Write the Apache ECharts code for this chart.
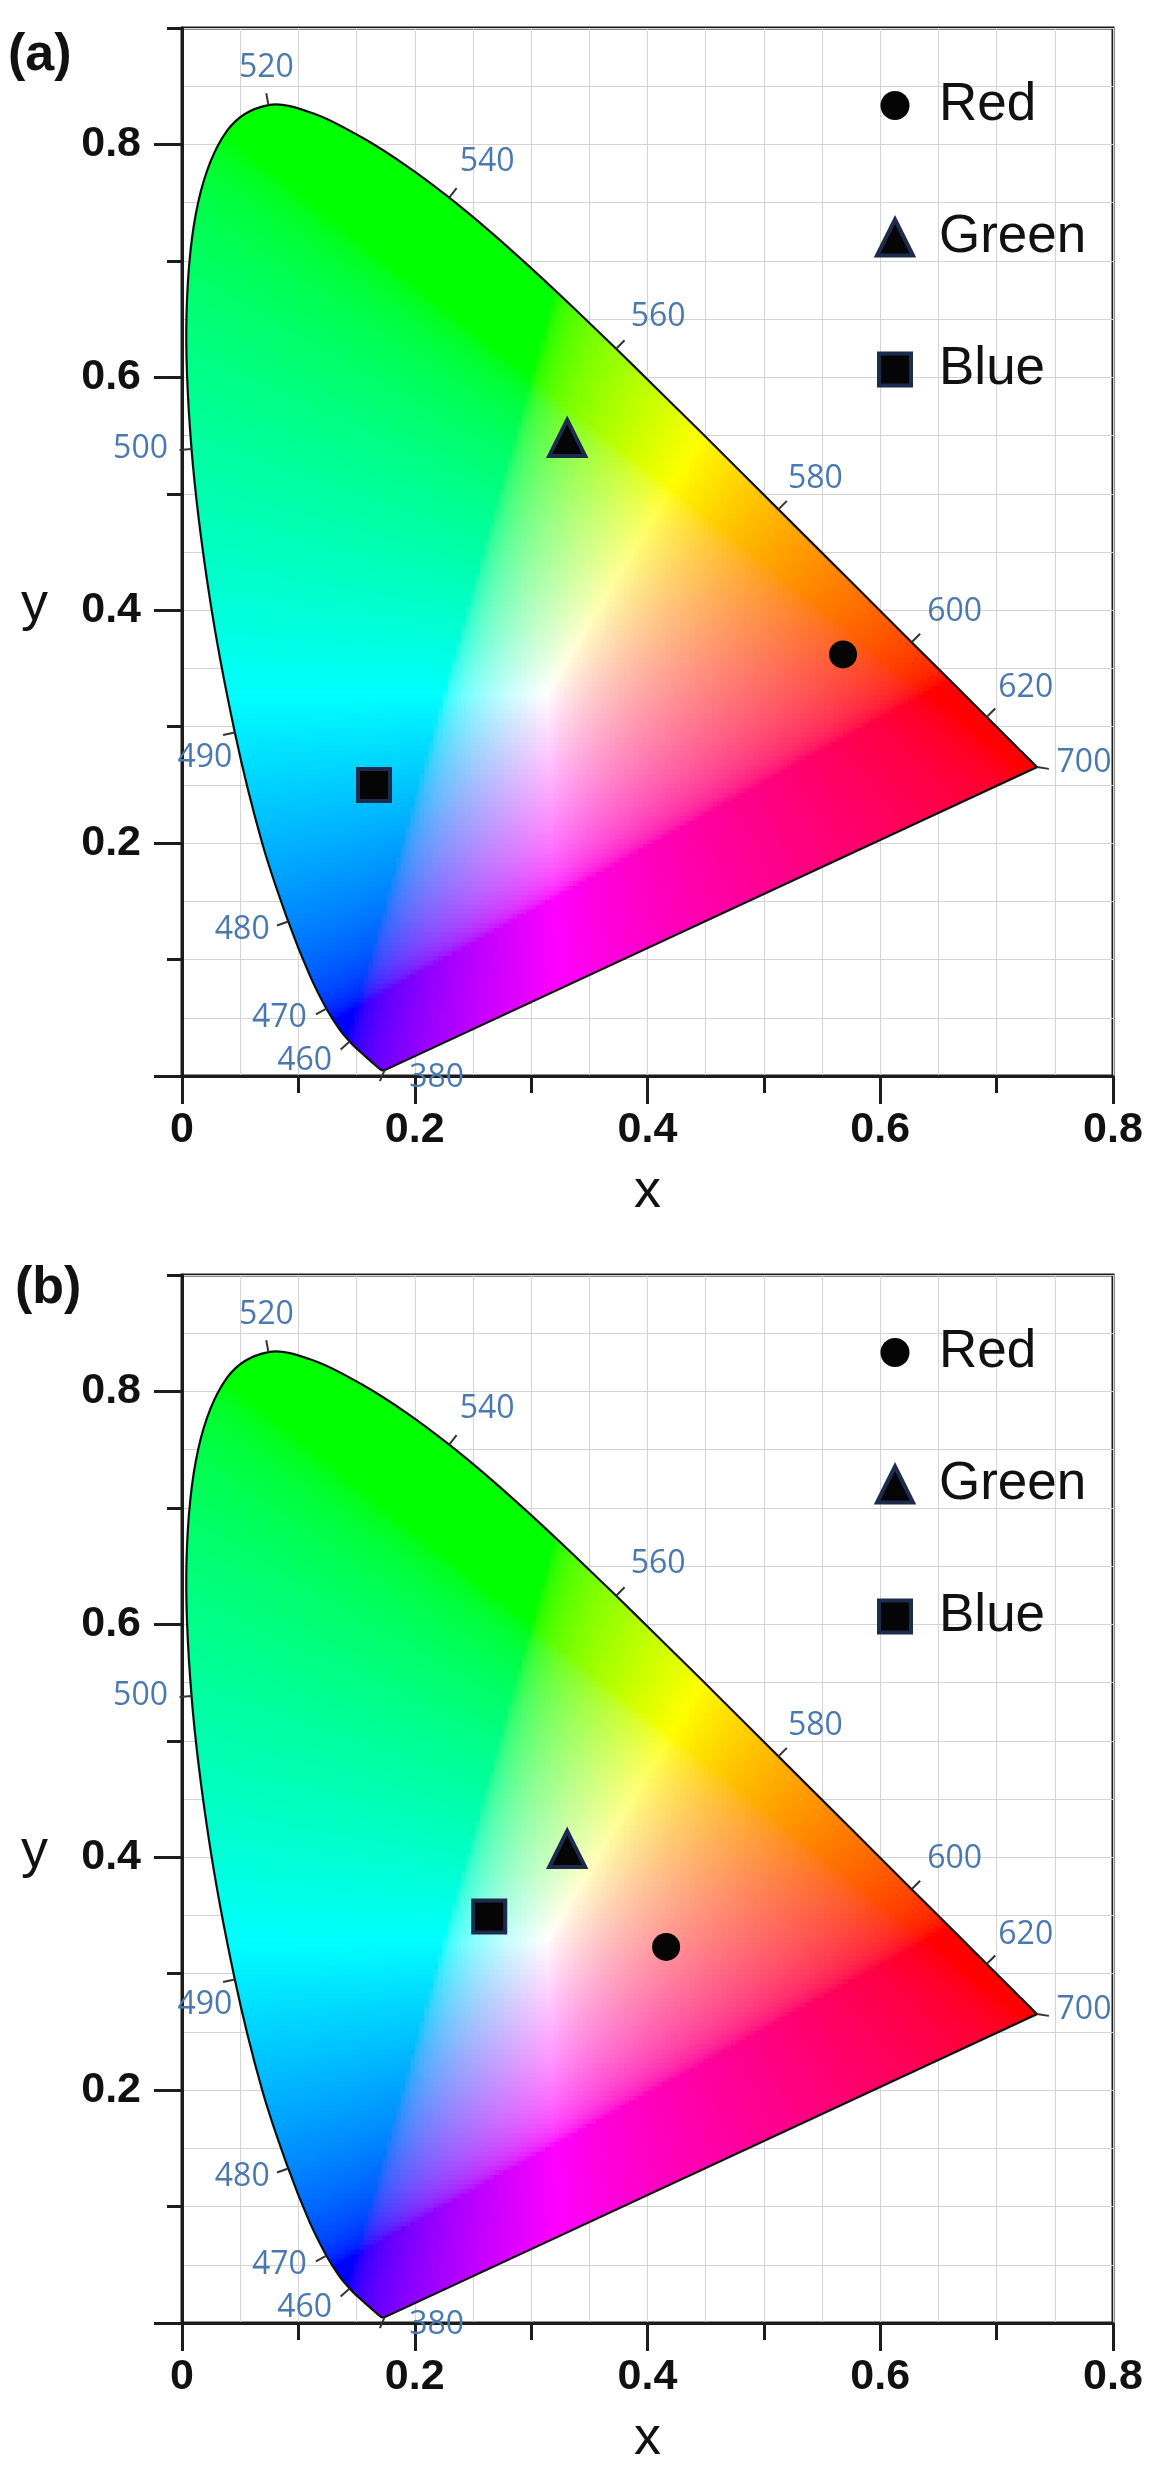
<!DOCTYPE html>
<html>
<head>
<meta charset="utf-8">
<title>CIE 1931 chromaticity</title>
<script src="https://cdn.jsdelivr.net/npm/echarts@6/dist/echarts.min.js"></script>
<style>
  html, body { margin: 0; padding: 0; background: #fff; }
  #chart { width: 1150px; height: 2470px; }
</style>
</head>
<body>
<div id="chart"></div>
<script>
// CIE 1931 2deg spectral locus, 5 nm steps
const locusWl = [380, 385, 390, 395, 400, 405, 410, 415, 420, 425, 430, 435, 440, 445, 450, 455,
    460, 465, 470, 475, 480, 485, 490, 495, 500, 505, 510, 515, 520, 525, 530, 535, 540, 545,
    550, 555, 560, 565, 570, 575, 580, 585, 590, 595, 600, 605, 610, 615, 620, 625, 630, 635,
    640, 645, 650, 655, 660, 665, 670, 675, 680, 685, 690, 695, 700];
const locusX = [0.1741, 0.1740, 0.1738, 0.1736, 0.1733, 0.1730, 0.1726, 0.1721, 0.1714, 0.1703,
    0.1689, 0.1669, 0.1644, 0.1611, 0.1566, 0.1510, 0.1440, 0.1355, 0.1241, 0.1096, 0.0913,
    0.0687, 0.0454, 0.0235, 0.0082, 0.0039, 0.0139, 0.0389, 0.0743, 0.1142, 0.1547, 0.1929,
    0.2296, 0.2658, 0.3016, 0.3373, 0.3731, 0.4087, 0.4441, 0.4788, 0.5125, 0.5448, 0.5752,
    0.6029, 0.6270, 0.6482, 0.6658, 0.6801, 0.6915, 0.7006, 0.7079, 0.7140, 0.7190, 0.7230,
    0.7260, 0.7283, 0.7300, 0.7311, 0.7320, 0.7327, 0.7334, 0.7340, 0.7344, 0.7346, 0.7347];
const locusY = [0.0050, 0.0050, 0.0049, 0.0049, 0.0048, 0.0048, 0.0048, 0.0048, 0.0051, 0.0058,
    0.0069, 0.0086, 0.0109, 0.0138, 0.0177, 0.0227, 0.0297, 0.0399, 0.0578, 0.0868, 0.1327,
    0.2007, 0.2950, 0.4127, 0.5384, 0.6548, 0.7502, 0.8120, 0.8338, 0.8262, 0.8059, 0.7816,
    0.7543, 0.7243, 0.6923, 0.6589, 0.6245, 0.5896, 0.5547, 0.5202, 0.4866, 0.4544, 0.4242,
    0.3965, 0.3725, 0.3514, 0.3340, 0.3197, 0.3083, 0.2993, 0.2920, 0.2859, 0.2809, 0.2770,
    0.2740, 0.2717, 0.2700, 0.2689, 0.2680, 0.2673, 0.2666, 0.2660, 0.2656, 0.2654, 0.2653];
const whitePoint = [0.3127, 0.3290];
const markWl = [380, 460, 470, 480, 490, 500, 520, 540, 560, 580, 600, 620, 700];

const seriesNames = ['Red', 'Green', 'Blue'];
const pointsA = [[0.568, 0.362], [0.331, 0.548], [0.165, 0.250]];
const pointsB = [[0.416, 0.323], [0.331, 0.407], [0.264, 0.349]];

const majorTicks = [0, 0.2, 0.4, 0.6, 0.8];
const minorTicksX = [0.1, 0.3, 0.5, 0.7];
const minorTicksY = [0.1, 0.3, 0.5, 0.7, 0.9];

// label placement: text centre offset (px) from the locus point
const labelNudge = {
    380: [52, 8], 460: [-45, 19], 470: [-47, 9], 480: [-46, 8], 490: [-30, 25], 500: [-51, 0],
    520: [-2, -37], 540: [38, -36], 560: [42, -32], 580: [37, -30], 600: [43, -30],
    620: [39, -29], 700: [47, -4]
};

const cellStep = 0.004;
const axisColor = '#1c1c1c';
const edgeBlue = '#1d2b4f';
const textFont = '"Liberation Sans", Arial, sans-serif';

function gammaEnc(c) {
    return c <= 0.0031308 ? 12.92 * c : 1.055 * Math.pow(c, 1 / 2.4) - 0.055;
}

function xyToRgb(x, y) {
    const X = x / y, Z = (1 - x - y) / y;
    let r = 3.2406 * X - 1.5372 - 0.4986 * Z;
    let g = -0.9689 * X + 1.8758 + 0.0415 * Z;
    let b = 0.0557 * X - 0.2040 + 1.0570 * Z;
    r = Math.max(r, 0); g = Math.max(g, 0); b = Math.max(b, 0);
    const m = Math.max(r, g, b) || 1;
    const to255 = v => Math.round(255 * Math.min(1, gammaEnc(v / m)));
    return 'rgb(' + to255(r) + ',' + to255(g) + ',' + to255(b) + ')';
}

// slightly enlarged hull so the clip path decides the real edge
const gamutHull = locusX.map((x, i) => [
    whitePoint[0] + (x - whitePoint[0]) * 1.03,
    whitePoint[1] + (locusY[i] - whitePoint[1]) * 1.03
]);

function insidePoly(x, y, poly) {
    let inside = false;
    for (let i = 0, j = poly.length - 1; i < poly.length; j = i++) {
        const xi = poly[i][0], yi = poly[i][1], xj = poly[j][0], yj = poly[j][1];
        if ((yi > y) !== (yj > y) && x < (xj - xi) * (y - yi) / (yj - yi) + xi) inside = !inside;
    }
    return inside;
}

function smoothPath(pts) {
    let d = 'M' + pts[0][0] + ',' + pts[0][1];
    const n = pts.length;
    for (let i = 0; i < n - 1; i++) {
        const p0 = pts[Math.max(i - 1, 0)], p1 = pts[i], p2 = pts[i + 1], p3 = pts[Math.min(i + 2, n - 1)];
        const c1 = [p1[0] + (p2[0] - p0[0]) / 6, p1[1] + (p2[1] - p0[1]) / 6];
        const c2 = [p2[0] - (p3[0] - p1[0]) / 6, p2[1] - (p3[1] - p1[1]) / 6];
        d += 'C' + c1[0] + ',' + c1[1] + ',' + c2[0] + ',' + c2[1] + ',' + p2[0] + ',' + p2[1];
    }
    return d + 'Z';
}

function renderGamut(params, api) {
    const pts = locusX.map((x, i) => api.coord([x, locusY[i]]));
    const d = smoothPath(pts);
    const o = api.coord([0, 0]), u = api.coord([cellStep, cellStep]);
    const cw = u[0] - o[0], ch = o[1] - u[1];
    const cells = [];
    for (let y = cellStep / 2; y < 0.86; y += cellStep) {
        for (let x = cellStep / 2; x < 0.76; x += cellStep) {
            if (!insidePoly(x, y, gamutHull)) continue;
            const c = api.coord([x, y]);
            cells.push({
                type: 'rect',
                shape: { x: c[0] - cw / 2, y: c[1] - ch / 2, width: cw + 1, height: ch + 1 },
                style: { fill: xyToRgb(x, y) }
            });
        }
    }
    return {
        type: 'group',
        children: [
            { type: 'group', clipPath: { type: 'path', shape: { pathData: d } }, children: cells },
            { type: 'path', shape: { pathData: d }, style: { fill: 'none', stroke: '#111', lineWidth: 2.2 } }
        ]
    };
}

function renderMark(params, api) {
    const wl = api.value(2);
    const i = locusWl.indexOf(wl);
    const p = api.coord([api.value(0), api.value(1)]);
    const w = api.coord(whitePoint);
    let nx, ny;
    if (i > 0 && i < locusWl.length - 1) {
        const a = api.coord([locusX[i - 1], locusY[i - 1]]);
        const b = api.coord([locusX[i + 1], locusY[i + 1]]);
        const tx = b[0] - a[0], ty = b[1] - a[1], tl = Math.hypot(tx, ty);
        nx = ty / tl; ny = -tx / tl;
        if (nx * (p[0] - w[0]) + ny * (p[1] - w[1]) < 0) { nx = -nx; ny = -ny; }
    } else {
        const dx = p[0] - w[0], dy = p[1] - w[1], dl = Math.hypot(dx, dy);
        nx = dx / dl; ny = dy / dl;
    }
    const off = labelNudge[wl] || [0, 0];
    return {
        type: 'group',
        children: [
            {
                type: 'line',
                shape: { x1: p[0], y1: p[1], x2: p[0] + nx * 12, y2: p[1] + ny * 12 },
                style: { stroke: '#333', lineWidth: 2 }
            },
            {
                type: 'text',
                x: p[0] + off[0],
                y: p[1] + off[1],
                style: {
                    text: String(wl), fill: '#4a79b0', fontSize: 32,
                    fontFamily: '"Open Sans", sans-serif', align: 'center', verticalAlign: 'middle'
                }
            }
        ]
    };
}

const grids = [
    { left: 182, top: 28, width: 931, height: 1048 },
    { left: 182, top: 1275, width: 931, height: 1048 }
];

// per panel: [labelled axis, minor-tick axis, grid-line axis]
function xAxes(g) {
    const base = { gridIndex: g, type: 'value', min: 0, max: 0.8, position: 'bottom' };
    return [
        Object.assign({}, base, {
            axisLine: { show: true, onZero: false, lineStyle: { color: axisColor, width: 3 } },
            axisTick: { show: true, customValues: majorTicks, length: 28, lineStyle: { color: axisColor, width: 3 } },
            axisLabel: {
                customValues: majorTicks, margin: 33, fontSize: 43, fontWeight: 'bold',
                fontFamily: textFont, color: '#111',
                formatter: v => (v === 0 ? '0' : v.toFixed(1))
            },
            splitLine: { show: false },
            name: 'x', nameLocation: 'middle', nameGap: 116,
            nameTextStyle: { fontSize: 54, fontFamily: textFont, color: '#111', verticalAlign: 'middle' }
        }),
        Object.assign({}, base, {
            axisLine: { show: false },
            axisTick: { show: true, customValues: minorTicksX, length: 17, lineStyle: { color: axisColor, width: 3 } },
            axisLabel: { show: false }, splitLine: { show: false }
        }),
        Object.assign({}, base, {
            interval: 0.05, z: 0,
            axisLine: { show: false }, axisTick: { show: false }, axisLabel: { show: false },
            splitLine: { show: true, lineStyle: { color: '#d3d3d3', width: 1 } }
        })
    ];
}

function yAxes(g) {
    const base = { gridIndex: g, type: 'value', min: 0, max: 0.9, position: 'left' };
    return [
        Object.assign({}, base, {
            axisLine: { show: true, onZero: false, lineStyle: { color: axisColor, width: 3 } },
            axisTick: { show: true, customValues: majorTicks, length: 28, lineStyle: { color: axisColor, width: 3 } },
            axisLabel: {
                customValues: majorTicks, margin: 41, fontSize: 43, fontWeight: 'bold',
                fontFamily: textFont, color: '#111', padding: [0, 0, 16, 0],
                formatter: v => (v === 0 ? '' : v.toFixed(1))
            },
            splitLine: { show: false },
            // empty first line pushes the title down to the 0.4 level
            name: '\ny', nameLocation: 'middle', nameRotate: 0, nameGap: 134,
            nameTextStyle: { fontSize: 54, lineHeight: 106, fontFamily: textFont, color: '#111' }
        }),
        Object.assign({}, base, {
            axisLine: { show: false },
            axisTick: { show: true, customValues: minorTicksY, length: 15, lineStyle: { color: axisColor, width: 3 } },
            axisLabel: { show: false }, splitLine: { show: false }
        }),
        Object.assign({}, base, {
            interval: 0.05, z: 0,
            axisLine: { show: false }, axisTick: { show: false }, axisLabel: { show: false },
            splitLine: { show: true, lineStyle: { color: '#d3d3d3', width: 1 } }
        })
    ];
}

const symbolStyle = {
    Red: { symbol: 'circle', symbolSize: 28, itemStyle: { color: '#050505', opacity: 1 } },
    Green: { symbol: 'triangle', symbolSize: 36, itemStyle: { color: '#050505', opacity: 1, borderColor: edgeBlue, borderWidth: 4 } },
    Blue: { symbol: 'rect', symbolSize: 32, itemStyle: { color: '#050505', opacity: 1, borderColor: edgeBlue, borderWidth: 4 } }
};

function panelSeries(axisIdx, points) {
    const list = [
        {
            type: 'custom', name: 'gamut', coordinateSystem: 'cartesian2d',
            xAxisIndex: axisIdx, yAxisIndex: axisIdx, silent: true, clip: false, z: 2,
            renderItem: renderGamut, data: [whitePoint]
        },
        {
            type: 'custom', name: 'wavelength', coordinateSystem: 'cartesian2d',
            xAxisIndex: axisIdx, yAxisIndex: axisIdx, silent: true, clip: false, z: 3,
            dimensions: ['x', 'y', 'wl'], encode: { x: 0, y: 1 },
            renderItem: renderMark,
            data: markWl.map(wl => {
                const i = locusWl.indexOf(wl);
                return [locusX[i], locusY[i], wl];
            })
        }
    ];
    seriesNames.forEach((name, k) => {
        list.push(Object.assign({
            type: 'scatter', name: name, xAxisIndex: axisIdx, yAxisIndex: axisIdx,
            z: 5, silent: true, data: [points[k]]
        }, symbolStyle[name]));
    });
    return list;
}

function legendAt(top) {
    return {
        left: 875, top: top, orient: 'vertical', itemWidth: 36, itemHeight: 36, itemGap: 79,
        padding: 0, selectedMode: false,
        textStyle: { fontSize: 53, fontFamily: textFont, color: '#111', padding: [0, 0, 0, 21] },
        data: [
            { name: 'Red', icon: 'path://M0,0M36,36M3.5,18a14.5,14.5 0 1,0 29,0a14.5,14.5 0 1,0 -29,0Z', itemStyle: { opacity: 1 } },
            { name: 'Green', icon: 'triangle', itemStyle: { opacity: 1, borderColor: edgeBlue, borderWidth: 4 } },
            { name: 'Blue', icon: 'path://M0,0M36,36M2,2h32v32h-32Z', itemStyle: { opacity: 1, borderColor: edgeBlue, borderWidth: 4 } }
        ]
    };
}

const chart = echarts.init(document.getElementById('chart'));

chart.setOption({
    animation: false,
    backgroundColor: '#fff',
    grid: grids.map(g => Object.assign({ show: true, borderColor: axisColor, borderWidth: 3 }, g)),
    xAxis: xAxes(0).concat(xAxes(1)),
    yAxis: yAxes(0).concat(yAxes(1)),
    legend: [legendAt(79), legendAt(1326)],
    graphic: [
        { type: 'text', left: 8, top: 30, style: { text: '(a)', font: 'bold 52px ' + textFont, fill: '#111' } },
        { type: 'text', left: 15, top: 1263, style: { text: '(b)', font: 'bold 52px ' + textFont, fill: '#111' } }
    ],
    series: panelSeries(0, pointsA).concat(panelSeries(3, pointsB))
});

window.addEventListener('resize', () => chart.resize());
</script>
</body>
</html>
